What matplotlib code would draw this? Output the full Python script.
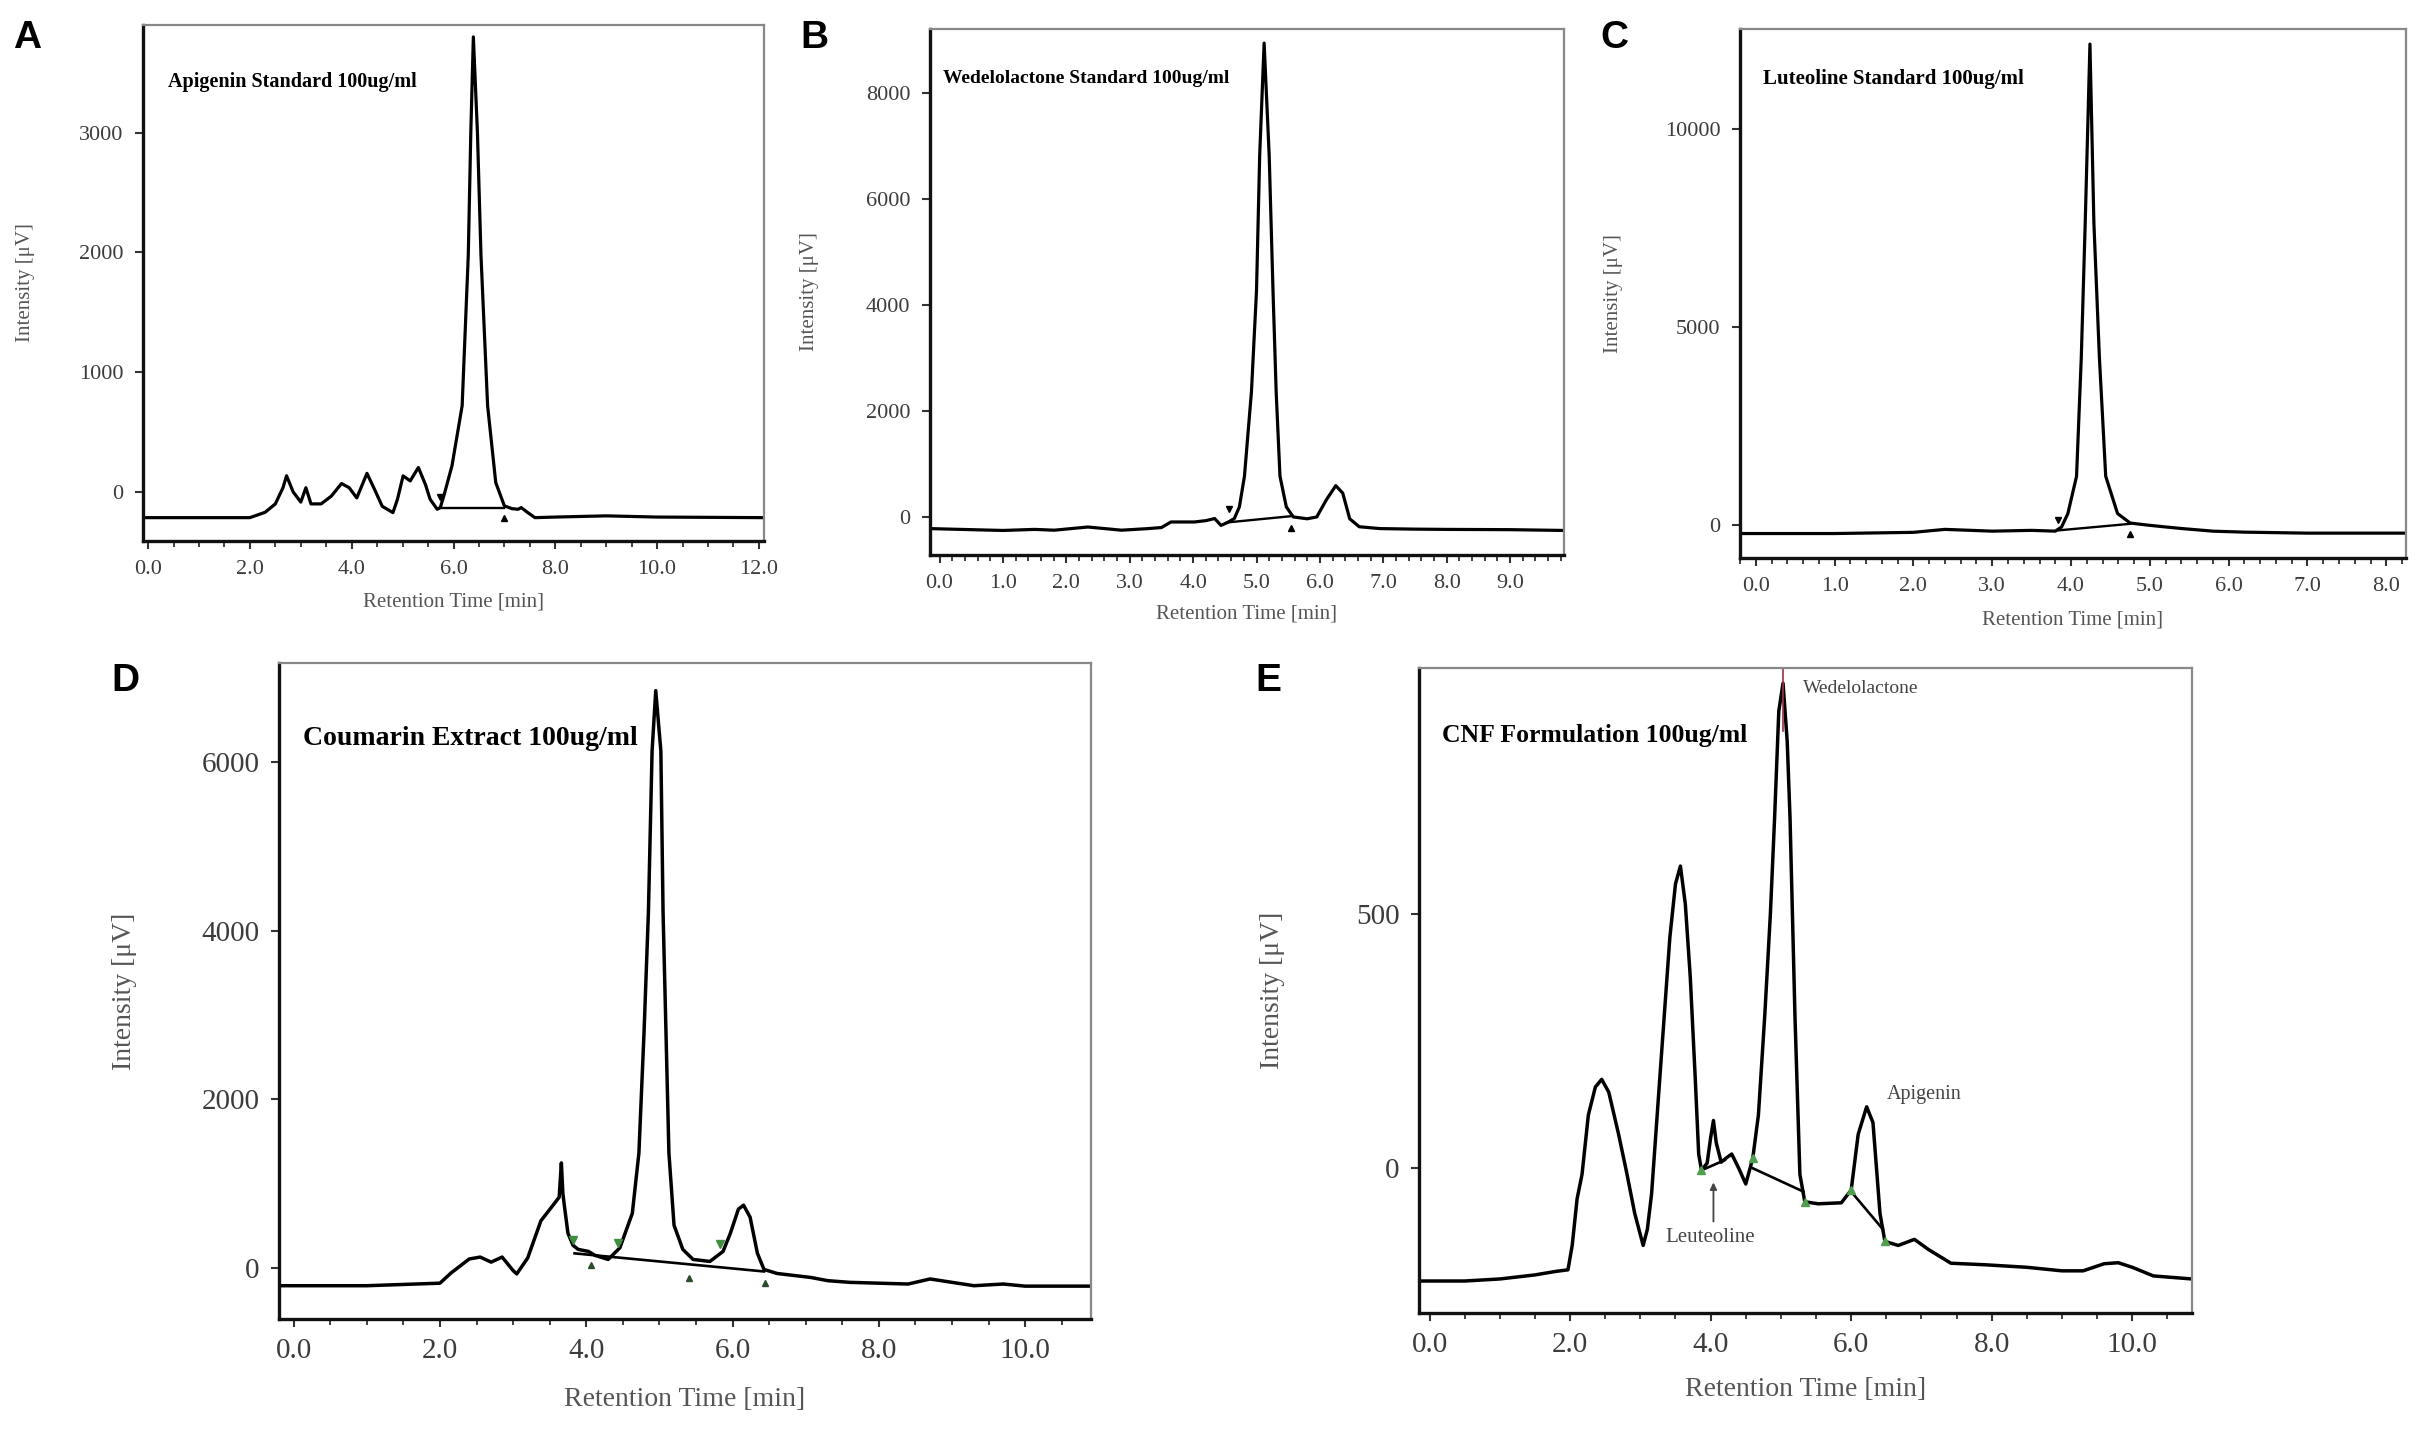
import matplotlib.pyplot as plt

W, H = 2426, 1435

# A: Apigenin standard
a_time = [-0.1, 1.0, 2.0, 2.3, 2.5, 2.65, 2.72, 2.85, 3.0, 3.1, 3.2, 3.4, 3.6, 3.8, 3.95,
          4.1, 4.3, 4.45, 4.6, 4.81, 4.9, 5.01, 5.15, 5.31, 5.45, 5.54, 5.68, 5.74, 5.81,
          5.97, 6.17, 6.29, 6.34, 6.39, 6.47, 6.54, 6.67, 6.83, 7.0, 7.15, 7.27, 7.33,
          7.45, 7.6, 8.0, 9.0, 10.0, 12.1]
a_int = [-215, -215, -215, -170, -100, 35, 135, 0, -85, 35, -100, -100, -35, 70, 35,
         -50, 155, 20, -120, -173, -60, 134, 92, 204, 60, -61, -145, -131, -33,
         218, 720, 1974, 3005, 3800, 3005, 1974, 720, 78, -117, -140, -145, -131,
         -170, -215, -210, -200, -210, -215]
a_base_t = [5.74, 7.0]
a_base_i = [-131, -131]

# B: Wedelolactone standard
b_time = [-0.15, 0.5, 1.0, 1.5, 1.81, 2.34, 2.87, 3.29, 3.5, 3.65, 4.02, 4.2, 4.34, 4.44,
          4.55, 4.65, 4.73, 4.81, 4.92, 5.0, 5.05, 5.12, 5.2, 5.26, 5.31, 5.37, 5.47, 5.58,
          5.8, 5.95, 6.1, 6.25, 6.36, 6.47, 6.62, 6.95, 7.5, 8.0, 9.0, 9.85]
b_int = [-210, -230, -245, -225, -240, -180, -240, -210, -190, -85, -85, -60, -20, -150,
         -90, -20, 200, 780, 2370, 4280, 6830, 8950, 6830, 4280, 2370, 780, 200, 10,
         -25, 10, 330, 600, 460, -25, -175, -210, -220, -225, -230, -245]
b_base_t = [4.57, 5.55]
b_base_i = [-90, 25]

# C: Luteoline standard
c_time = [-0.2, 1.0, 2.0, 2.4, 3.0, 3.5, 3.8, 3.88, 3.96, 4.07, 4.13, 4.18, 4.24, 4.29,
          4.36, 4.44, 4.59, 4.75, 4.97, 5.18, 5.4, 5.8, 6.2, 7.0, 8.25]
c_int = [-205, -205, -175, -100, -145, -125, -145, -40, 300, 1240, 4230, 7630, 12140, 7630,
         4230, 1240, 300, 60, 8, -35, -78, -145, -170, -195, -195]
c_base_t = [3.84, 4.75]
c_base_i = [-125, 40]

# D: Coumarin extract
d_time = [-0.2, 1.0, 2.0, 2.15, 2.4, 2.55, 2.7, 2.85, 3.0, 3.05, 3.2, 3.38, 3.55, 3.63,
          3.66, 3.68, 3.7, 3.75, 3.82, 3.89, 4.03, 4.12, 4.3, 4.46, 4.63, 4.72, 4.79,
          4.85, 4.9, 4.95, 5.02, 5.05, 5.09, 5.13, 5.2, 5.32, 5.46, 5.69, 5.87, 5.97,
          6.08, 6.15, 6.24, 6.34, 6.43, 6.61, 7.07, 7.3, 7.6, 8.0, 8.4, 8.7, 9.0, 9.3,
          9.7, 10.0, 10.9]
d_int = [-210, -210, -180, -60, 107, 130, 70, 130, -30, -70, 120, 560, 750, 840,
         1247, 889, 746, 412, 269, 221, 197, 150, 102, 240, 650, 1366, 2797,
         4227, 6135, 6852, 6135, 4227, 2797, 1366, 508, 221, 102, 78, 197, 412,
         698, 746, 603, 174, -17, -65, -112, -150, -170, -180, -190, -130, -170, -210,
         -190, -215, -215]
d_base_t = [3.84, 6.43]
d_base_i = [174, -41]
d_up_t = [3.82, 4.44, 5.83]
d_up_i = [330, 300, 280]
d_dn_t = [4.07, 5.41, 6.45]
d_dn_i = [30, -120, -180]

# E: CNF formulation
e_time = [-0.15, 0.5, 1.0, 1.5, 1.8, 1.97, 2.03, 2.1, 2.17, 2.26, 2.36, 2.45, 2.55, 2.69,
          2.8, 2.92, 3.04, 3.1, 3.16, 3.3, 3.42, 3.5, 3.57, 3.64, 3.71, 3.78, 3.83, 3.87,
          3.95, 4.0, 4.04, 4.08, 4.15, 4.22, 4.3, 4.4, 4.5, 4.6, 4.68, 4.77, 4.85, 4.91,
          4.97, 5.03, 5.09, 5.13, 5.2, 5.27, 5.34, 5.53, 5.86, 6.0, 6.1, 6.22, 6.31, 6.41,
          6.48, 6.67, 6.9, 7.1, 7.42, 7.9, 8.5, 9.0, 9.3, 9.6, 9.8, 10.0, 10.3, 10.85]
e_int = [-222, -222, -218, -210, -203, -200, -152, -60, -12, 105, 160, 175, 150, 67,
         -5, -89, -152, -120, -50, 223, 455, 560, 595, 520, 377, 180, 28, -4,
         10, 60, 94, 50, 12, 20, 28, 0, -31, 20, 105, 300, 500, 689,
         900, 955, 840, 689, 300, -12, -66, -70, -68, -43, 67, 121, 90, -89,
         -144, -152, -140, -160, -187, -190, -195, -202, -202, -188, -186, -195, -212, -218]
e_base1_t = [3.87, 4.2]
e_base1_i = [-4, 16]
e_base2_t = [4.6, 5.32]
e_base2_i = [0, -46]
e_base3_t = [6.0, 6.45]
e_base3_i = [-46, -120]
e_marks_t = [3.87, 4.6, 5.34, 6.0, 6.48]
e_marks_i = [-4, 20, -66, -43, -144]

serif = 'Liberation Serif'
tick_col = '#3c3c3c'


def make_ax(l, t, r, b):
    return fig.add_axes([l / W, 1 - b / H, (r - l) / W, (b - t) / H])


def style(ax, xlim, ylim, xt, yt, fs_tick, fs_lab, xlab_y):
    ax.set_xlim(xlim)
    ax.set_ylim(ylim)
    ax.set_xticks(xt)
    ax.set_xticklabels(['%.1f' % v for v in xt])
    ax.set_yticks(yt)
    ax.set_yticklabels([str(v) for v in yt])
    ax.minorticks_on()
    ax.yaxis.set_tick_params(which='minor', length=0)
    ax.tick_params(axis='x', which='minor', length=4, width=1.3, color='#333')
    ax.tick_params(axis='both', which='major', length=6, width=1.5, color='#333',
                   labelsize=fs_tick, labelcolor=tick_col, pad=8)
    for lab in ax.get_xticklabels() + ax.get_yticklabels():
        lab.set_family(serif)
    for s in ['left', 'bottom']:
        ax.spines[s].set_linewidth(2.4)
        ax.spines[s].set_color('#111')
    for s in ['top', 'right']:
        ax.spines[s].set_linewidth(1.6)
        ax.spines[s].set_color('#888')
    ax.set_xlabel('Retention Time [min]', family=serif, fontsize=fs_lab, color='#555', va='center')
    ax.set_ylabel('Intensity [\u03bcV]', family=serif, fontsize=fs_lab, color='#555', va='center')
    ax.xaxis.set_label_coords(0.5, xlab_y)
    ax.yaxis.set_label_coords(-0.19, 0.5)


fig = plt.figure(figsize=(W / 100, H / 100), dpi=100)

# A
ax = make_ax(143, 25, 764, 541)
ax.plot(a_time, a_int, color='k', lw=2.3)
ax.plot(a_base_t, a_base_i, color='k', lw=1.7)
ax.plot(a_base_t[0], a_base_i[0] + 90, 'v', color='k', ms=4)
ax.plot(a_base_t[1], a_base_i[1] - 90, '^', color='k', ms=4)
style(ax, (-0.1, 12.1), (-410, 3900), [0, 2, 4, 6, 8, 10, 12], [0, 1000, 2000, 3000], 16, 15, -0.118)
ax.text(0.04, 0.89, 'Apigenin Standard 100ug/ml', transform=ax.transAxes, family=serif,
        fontweight='bold', fontsize=14.5, va='center')

# B
ax = make_ax(930, 29, 1564, 555)
ax.plot(b_time, b_int, color='k', lw=2.3)
ax.plot(b_base_t, b_base_i, color='k', lw=1.7)
ax.plot(b_base_t[0], b_base_i[0] + 250, 'v', color='k', ms=4)
ax.plot(b_base_t[1], b_base_i[1] - 220, '^', color='k', ms=4)
style(ax, (-0.15, 9.85), (-708, 9215), list(range(10)), [0, 2000, 4000, 6000, 8000], 16, 15, -0.112)
ax.text(0.02, 0.905, 'Wedelolactone Standard 100ug/ml', transform=ax.transAxes, family=serif,
        fontweight='bold', fontsize=14, va='center')

# C
ax = make_ax(1740, 29, 2406, 558)
ax.plot(c_time, c_int, color='k', lw=2.3)
ax.plot(c_base_t, c_base_i, color='k', lw=1.7)
ax.plot(c_base_t[0], c_base_i[0] + 260, 'v', color='k', ms=4)
ax.plot(c_base_t[1], c_base_i[1] - 260, '^', color='k', ms=4)
style(ax, (-0.2, 8.25), (-822, 12520), list(range(9)), [0, 5000, 10000], 16, 15, -0.117)
ax.text(0.035, 0.905, 'Luteoline Standard 100ug/ml', transform=ax.transAxes, family=serif,
        fontweight='bold', fontsize=15, va='center')

# D
ax = make_ax(279, 663, 1091, 1319)
ax.plot(d_time, d_int, color='k', lw=2.5)
ax.plot(d_base_t, d_base_i, color='k', lw=1.9)
ax.plot(d_up_t, d_up_i, 'v', color='#3f8f3f', ms=6)
ax.plot(d_dn_t, d_dn_i, '^', color='#2b4d2b', ms=5)
style(ax, (-0.2, 10.9), (-605, 7180), [0, 2, 4, 6, 8, 10], [0, 2000, 4000, 6000], 21, 20, -0.122)
ax.text(0.03, 0.885, 'Coumarin Extract 100ug/ml', transform=ax.transAxes, family=serif,
        fontweight='bold', fontsize=20, va='center')

# E
ax = make_ax(1419, 668, 2192, 1313)
ax.plot(e_time, e_int, color='k', lw=2.5)
for bt, bi in [(e_base1_t, e_base1_i), (e_base2_t, e_base2_i), (e_base3_t, e_base3_i)]:
    ax.plot(bt, bi, color='k', lw=1.9)
ax.plot(e_marks_t, e_marks_i, '^', color='#4f9f4f', ms=6)
ax.plot([5.03, 5.03], [860, 985], color='#a03040', lw=1.2)
style(ax, (-0.15, 10.85), (-285, 985), [0, 2, 4, 6, 8, 10], [0, 500], 21, 20, -0.118)
ax.text(0.03, 0.895, 'CNF Formulation 100ug/ml', transform=ax.transAxes, family=serif,
        fontweight='bold', fontsize=18.5, va='center')
ax.text(5.32, 945, 'Wedelolactone', family=serif, fontsize=14, color='#444', va='center')
ax.text(6.5, 145, 'Apigenin', family=serif, fontsize=14.5, color='#444', va='center')
ax.text(3.35, -136, 'Leuteoline', family=serif, fontsize=15, color='#444', va='center')
ax.annotate('', xy=(4.04, -28), xytext=(4.04, -105),
            arrowprops=dict(arrowstyle='-|>', color='#444', lw=1.3, shrinkA=0, shrinkB=0))

# panel letters
for letter, x, y in [('A', 13, 48), ('B', 800, 48), ('C', 1600, 48), ('D', 111, 691), ('E', 1255, 691)]:
    fig.text(x / W, 1 - y / H, letter, family='Liberation Sans', fontweight='bold',
             fontsize=28, color='k')

fig.savefig('out.png', dpi=100, facecolor='white')
